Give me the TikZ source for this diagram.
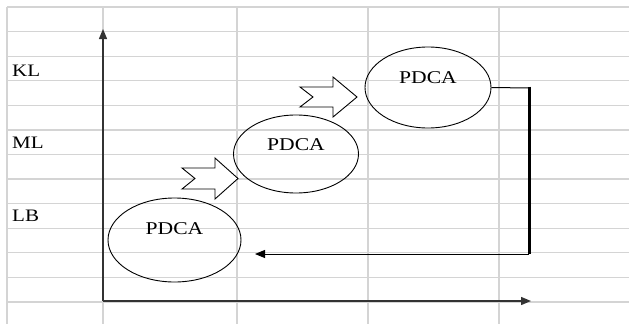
\documentclass[tikz,border=0pt]{standalone}
\usepackage{fontspec}
\setmainfont{Liberation Serif}
\usetikzlibrary{shapes.geometric,arrows.meta}
\definecolor{gridgray}{HTML}{D4D4D4}
\definecolor{axisgray}{HTML}{333333}
\newcommand{\widetext}[1]{\scalebox{1.2}[1]{#1}}
\newcommand{\cyctext}[1]{\raisebox{#1}[0pt][0pt]{\widetext{PDCA}}}
\tikzset{
  gridline/.style={draw=gridgray,line width=1.3pt},
  axisline/.style={draw=axisgray,line width=1.4pt,-{Triangle[length=10pt,width=8pt]}},
  cyc/.style={ellipse,draw=black,line width=0.9pt,inner sep=0pt,font=\fontsize{18}{22}\selectfont},
  level/.style={anchor=west,inner sep=0pt,font=\fontsize{17.5}{21}\selectfont},
  blockarrow/.style={draw=black,line width=0.9pt,fill=white,line join=miter},
  thinline/.style={draw=black,line width=1pt},
  thickline/.style={draw=black,line width=3pt},
}
\begin{document}
\begin{tikzpicture}[x=1pt,y=-1pt]
  \useasboundingbox (0,0) rectangle (629,324);
  \fill[white] (0,0) rectangle (629,324);

  % spreadsheet grid
  \foreach \i in {0,...,12}
    \draw[gridline] (7,{7+24.58*\i}) -- (629,{7+24.58*\i});
  \foreach \gx in {7,103,237,368,499}
    \draw[gridline] (\gx,7) -- (\gx,324);

  % axes
  \coordinate (origin) at (103,301);
  \coordinate (ytip) at (103,29);
  \coordinate (xtip) at (531,301);
  \draw[axisline] (origin) -- (ytip);
  \draw[axisline] (origin) -- (xtip);

  % level labels
  \node[level] (kl) at (12,70.5) {\widetext{KL}};
  \node[level] (ml) at (12,143) {\widetext{ML}};
  \node[level] (lb) at (12,216) {\widetext{LB}};

  % PDCA cycles
  \node[cyc,minimum width=133pt,minimum height=84pt] (p1) at (174.5,240) {\cyctext{6pt}};
  \node[cyc,minimum width=125pt,minimum height=78pt] (p2) at (296,154) {\cyctext{4pt}};
  \node[cyc,minimum width=126pt,minimum height=81pt] (p3) at (428,87.5) {\cyctext{4.5pt}};

  % notched block arrows between the cycles
  \draw[blockarrow] (182,168) -- (215,168) -- (215,158) -- (238,178.5)
    -- (215,199) -- (215,189) -- (182,189) -- (195,178.5) -- cycle;
  \draw[blockarrow] (300,87) -- (333,87) -- (333,77) -- (357,97)
    -- (333,117) -- (333,107) -- (300,107) -- (313,97) -- cycle;

  % return path back to the first level
  \coordinate (c1) at (529,88);
  \coordinate (c2) at (529,254);
  \coordinate (back) at (255,254);
  \draw[thinline] (p3.east) -- (c1);
  \draw[thickline] (529,86.5) -- (c2);
  \draw[thinline,-{Triangle[length=10pt,width=8pt]}] (c2) -- (back);
\end{tikzpicture}
\end{document}
